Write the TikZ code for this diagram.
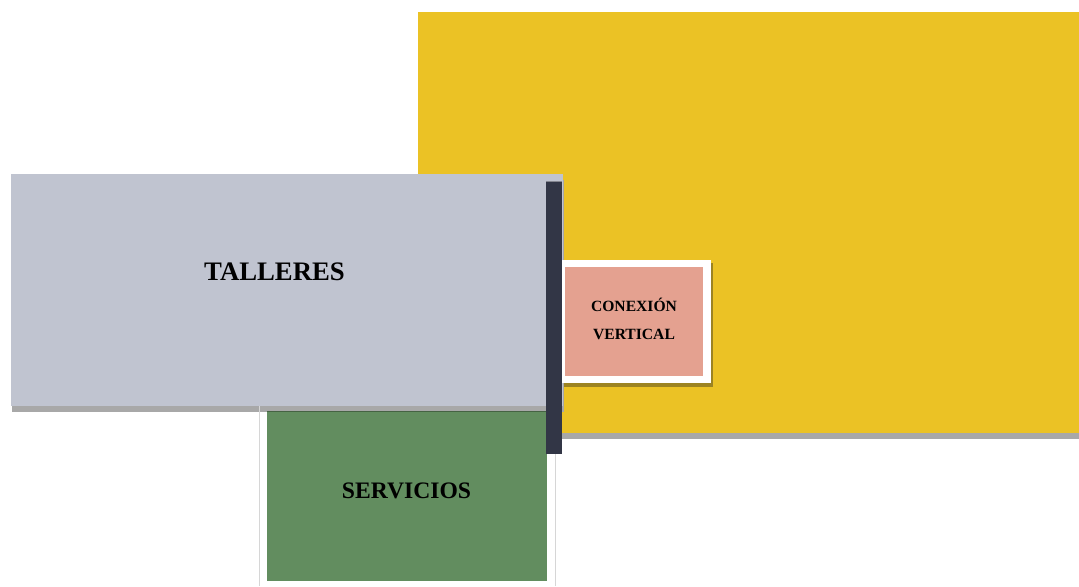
\documentclass[tikz,border=0pt]{standalone}
\usepackage{fontspec}
\setmainfont{Liberation Serif}
\definecolor{amarillo}{HTML}{EBC225}
\definecolor{gristaller}{HTML}{C0C4D0}
\definecolor{verdeserv}{HTML}{628D5F}
\definecolor{rosacon}{HTML}{E4A190}
\definecolor{barra}{HTML}{323646}
\definecolor{sombra}{HTML}{A8A8A8}
\definecolor{sombracon}{HTML}{9C8322}
\definecolor{linea}{HTML}{D6D6D6}

\begin{document}
\begin{tikzpicture}[x=0.025cm,y=-0.025cm,
    rotulo/.style={anchor=base,inner sep=0pt,font=\bfseries}]
    \useasboundingbox (0,0) rectangle (1079,586);
    % zonas con su sombra
    \foreach \a/\b/\c/\d/\f in {
        418/12/1079/433/amarillo,
        11/174/563/406/gristaller}{
      \fill[sombra] (\a+1,\b+6) rectangle (\c+1,\d+6);
      \fill[\f] (\a,\b) rectangle (\c,\d);
    }
    \node[rotulo,font=\bfseries\fontsize{19}{22}\selectfont] (talleres) at (274.5,280) {TALLERES};

    % servicios
    \draw[linea,line width=0.6pt] (259.5,406) -- (259.5,586);
    \draw[linea,line width=0.6pt] (555,412) -- (555,586);
    \fill[verdeserv] (267,411) rectangle (547,581);
    \draw[verdeserv!70!black,line width=0.5pt] (267,411) -- (547,411);
    \node[rotulo,font=\bfseries\fontsize{16.8}{20}\selectfont] (servicios) at (406.5,498.3) {SERVICIOS};

    % barra vertical
    \fill[barra] (546,181) rectangle (562,454);
    \draw[barra!60!white,line width=0.5pt] (546,181.5) -- (562,181.5);

    % conexion vertical
    \fill[sombracon] (564,263) rectangle (713,387);
    \fill[white] (562,260) rectangle (711,383);
    \fill[rosacon] (565,267) rectangle (703,376);
    \foreach \y/\t/\n in {311.7/CONEXIÓN/con1, 339/VERTICAL/con2}{
      \node[rotulo,font=\bfseries\fontsize{11.1}{13}\selectfont] (\n) at (634,\y) {\t};
    }
\end{tikzpicture}
\end{document}
